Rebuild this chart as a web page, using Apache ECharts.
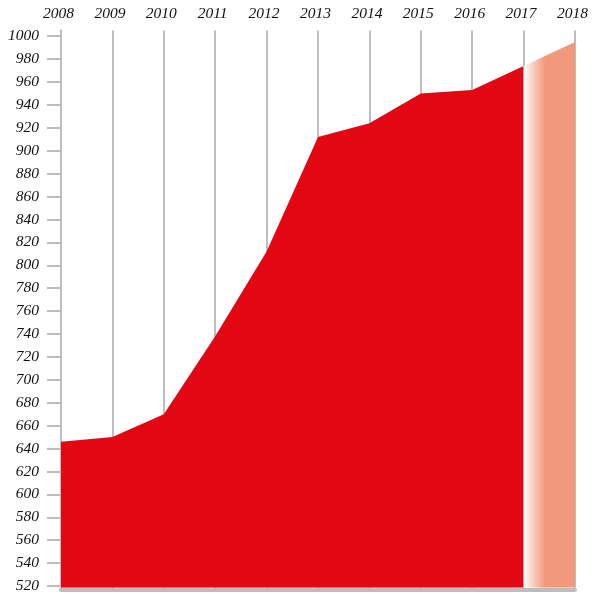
<!DOCTYPE html>
<html>
<head>
<meta charset="utf-8">
<script src="https://cdn.jsdelivr.net/npm/echarts@6/dist/echarts.min.js"></script>
<style>
html,body{margin:0;padding:0;background:#fff;}
#chart{width:593px;height:594px;}
</style>
</head>
<body>
<div id="chart"></div>
<script>
var years = ['2008','2009','2010','2011','2012','2013','2014','2015','2016','2017','2018'];
var actualValues = [646, 650, 670, 738, 812, 912, 924, 950, 953, 974, null];
var forecastValues = [null, null, null, null, null, null, null, null, null, 974, 995];
var yTickValues = [520,540,560,580,600,620,640,660,680,700,720,740,760,780,800,820,840,860,880,900,920,940,960,980,1000];

var GRAY = '#bdbdbd';
var RED = '#E30613';
var SALMON = '#F2997B';
var FONT = '"Liberation Serif", "Times New Roman", serif';

var chart = echarts.init(document.getElementById('chart'), null, {renderer: 'canvas'});
chart.setOption({
  animation: false,
  backgroundColor: '#fff',
  grid: {left: 61, right: 18, top: 30.5, bottom: 4, containLabel: false},
  xAxis: [{
    type: 'category',
    data: years,
    position: 'top',
    boundaryGap: false,
    axisLine: {show: false},
    axisTick: {show: false},
    axisLabel: {
      show: true, margin: 9, color: '#111',
      fontFamily: FONT, fontStyle: 'italic', fontSize: 15.5,
      padding: [0, 5, 0, 0]
    },
    splitLine: {show: true, lineStyle: {color: GRAY, width: 2}}
  }, {
    type: 'category',
    data: years,
    position: 'bottom',
    boundaryGap: false,
    offset: 2,
    axisLine: {show: true, lineStyle: {color: GRAY, width: 4}},
    axisTick: {show: false},
    axisLabel: {show: false},
    splitLine: {show: false}
  }],
  yAxis: {
    type: 'value',
    min: 518.5,
    max: 1005,
    axisLine: {show: true, lineStyle: {color: GRAY, width: 2}},
    axisTick: {show: true, length: 14, lineStyle: {color: GRAY, width: 2}, customValues: yTickValues},
    axisLabel: {
      show: true, margin: 22, color: '#111',
      fontFamily: FONT, fontStyle: 'italic', fontSize: 15.5,
      customValues: yTickValues,
      formatter: function (v) { return String(v); }
    },
    splitLine: {show: false}
  },
  series: [{
    type: 'line',
    xAxisIndex: 0,
    data: actualValues,
    showSymbol: false,
    symbol: 'none',
    lineStyle: {width: 0, opacity: 0},
    areaStyle: {color: RED, opacity: 1, origin: 'start'},
    z: 3
  }, {
    type: 'line',
    xAxisIndex: 0,
    data: forecastValues,
    showSymbol: false,
    symbol: 'none',
    lineStyle: {width: 0, opacity: 0},
    areaStyle: {
      opacity: 1,
      origin: 'start',
      color: new echarts.graphic.LinearGradient(0, 0, 1, 0, [
        {offset: 0, color: '#ffffff'},
        {offset: 0.12, color: '#fce0d6'},
        {offset: 0.3, color: '#f5b39c'},
        {offset: 0.42, color: SALMON},
        {offset: 1, color: SALMON}
      ])
    },
    z: 3
  }]
});
</script>
</body>
</html>
